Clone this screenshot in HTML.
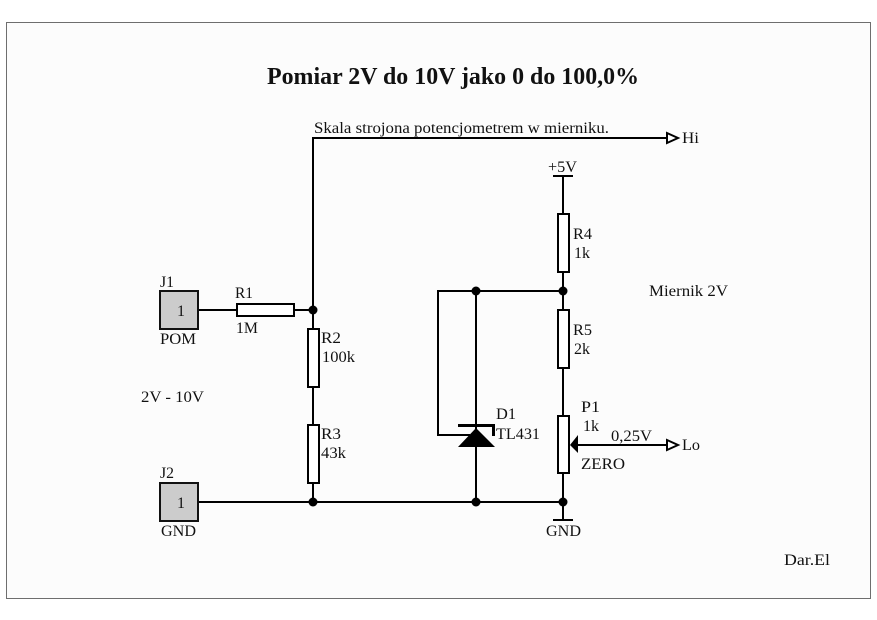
<!DOCTYPE html>
<html lang="pl"><head><meta charset="utf-8"><title>Pomiar 2V do 10V</title>
<style>
html,body{margin:0;padding:0;background:#fff;width:877px;height:620px;overflow:hidden}
svg{display:block}
text{font-family:"Liberation Serif",serif;font-size:16px;fill:#111}
.w{fill:none;stroke:#000;stroke-width:2}
.r{fill:#fff;stroke:#000;stroke-width:2}
.c{fill:#ccc;stroke:#111;stroke-width:2}
</style></head><body>
<svg width="877" height="620" viewBox="0 0 877 620" xmlns="http://www.w3.org/2000/svg">
<rect x="6.5" y="22.5" width="864" height="576" fill="#fcfcfc" stroke="#6e6e6e" stroke-width="1"/>
<text x="267" y="84" textLength="372" lengthAdjust="spacingAndGlyphs" style="font-size:24px;font-weight:bold">Pomiar 2V do 10V jako 0 do 100,0%</text>
<text x="314" y="133" textLength="295" lengthAdjust="spacingAndGlyphs">Skala strojona potencjometrem w mierniku.</text>

<path class="w" d="M666 138H313V502M198 310H237M294 310H313M198 502H563M563 176V520M476 291V502M563 291H438V435H470M553 176H573M553 520H573M578 445H666"/>

<rect class="c" x="160" y="291" width="38" height="38"/>
<rect class="c" x="160" y="483" width="38" height="38"/>
<rect class="r" x="237" y="304" width="57" height="12"/>
<rect class="r" x="308" y="329" width="11" height="58"/>
<rect class="r" x="308" y="425" width="11" height="58"/>
<rect class="r" x="558" y="214" width="11" height="58"/>
<rect class="r" x="558" y="310" width="11" height="58"/>
<rect class="r" x="558" y="416" width="11" height="57"/>

<circle cx="313" cy="310" r="4.500"/><circle cx="313" cy="502" r="4.500"/>
<circle cx="476" cy="291" r="4.500"/><circle cx="563" cy="291" r="4.500"/>
<circle cx="476" cy="502" r="4.500"/><circle cx="563" cy="502" r="4.500"/>

<path d="M476 428L495 447H458Z" fill="#000"/>
<path d="M458 425.500H493.500V436" fill="none" stroke="#000" stroke-width="3"/>
<path d="M570 445L578 435V453Z" fill="#000"/>
<path d="M667 133V143L678 138Z M667 440V450L678 445Z" fill="#fff" stroke="#000" stroke-width="2"/>

<text x="160" y="287" textLength="14" lengthAdjust="spacingAndGlyphs">J1</text><text x="177" y="316">1</text>
<text x="160" y="344" textLength="36" lengthAdjust="spacingAndGlyphs">POM</text>
<text x="160" y="478" textLength="14" lengthAdjust="spacingAndGlyphs">J2</text><text x="177" y="508">1</text>
<text x="161" y="536" textLength="35" lengthAdjust="spacingAndGlyphs">GND</text>
<text x="235" y="298" textLength="18" lengthAdjust="spacingAndGlyphs">R1</text>
<text x="236" y="333" textLength="22" lengthAdjust="spacingAndGlyphs">1M</text>
<text x="321" y="343" textLength="20" lengthAdjust="spacingAndGlyphs">R2</text>
<text x="322" y="362" textLength="33" lengthAdjust="spacingAndGlyphs">100k</text>
<text x="321" y="439" textLength="20" lengthAdjust="spacingAndGlyphs">R3</text>
<text x="321" y="458" textLength="25" lengthAdjust="spacingAndGlyphs">43k</text>
<text x="141" y="402" textLength="63" lengthAdjust="spacingAndGlyphs">2V - 10V</text>
<text x="548" y="172" textLength="29" lengthAdjust="spacingAndGlyphs">+5V</text>
<text x="573" y="239" textLength="19" lengthAdjust="spacingAndGlyphs">R4</text>
<text x="574" y="258" textLength="16" lengthAdjust="spacingAndGlyphs">1k</text>
<text x="573" y="335" textLength="19" lengthAdjust="spacingAndGlyphs">R5</text>
<text x="574" y="354" textLength="16" lengthAdjust="spacingAndGlyphs">2k</text>
<text x="649" y="296" textLength="79" lengthAdjust="spacingAndGlyphs">Miernik 2V</text>
<text x="682" y="143" textLength="17" lengthAdjust="spacingAndGlyphs">Hi</text>
<text x="682" y="450" textLength="18" lengthAdjust="spacingAndGlyphs">Lo</text>
<text x="496" y="419" textLength="20" lengthAdjust="spacingAndGlyphs">D1</text>
<text x="496" y="439" textLength="44" lengthAdjust="spacingAndGlyphs">TL431</text>
<text x="581" y="412" textLength="19" lengthAdjust="spacingAndGlyphs">P1</text>
<text x="583" y="431" textLength="16" lengthAdjust="spacingAndGlyphs">1k</text>
<text x="611" y="441" textLength="41" lengthAdjust="spacingAndGlyphs">0,25V</text>
<text x="581" y="469" textLength="44" lengthAdjust="spacingAndGlyphs">ZERO</text>
<text x="546" y="536" textLength="35" lengthAdjust="spacingAndGlyphs">GND</text>
<text x="784" y="565" textLength="46" lengthAdjust="spacingAndGlyphs">Dar.El</text>
</svg>
</body></html>
